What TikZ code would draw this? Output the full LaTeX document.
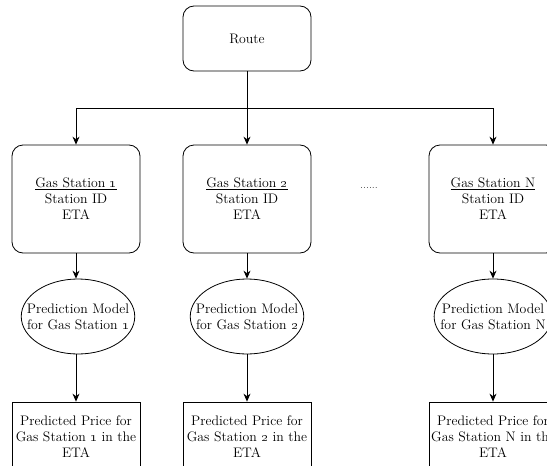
\documentclass[tikz,border=0pt]{standalone}
\usetikzlibrary{shapes.geometric,arrows.meta}
\begin{document}
\begin{tikzpicture}[x=1pt,y=-1pt,
        txt/.style={font=\fontsize{13.8}{16}\selectfont, align=center, inner sep=0pt, text=black},
        roundbox/.style={txt, draw, line width=0.8pt, rounded corners=11pt, minimum width=128pt},
        model/.style={txt, draw, line width=0.8pt, ellipse, inner xsep=-11pt, minimum height=75pt},
        pricebox/.style={txt, draw, line width=0.8pt, minimum width=128pt, minimum height=70pt},
        arr/.style={-{Stealth[length=8pt,width=7pt]}, line width=0.8pt}]
        \clip (0,0) rectangle (547,466);
        \fill[white] (0,0) rectangle (547,466);
        \coordinate (split) at (247,108);
        \node[roundbox, minimum height=65pt] (route) at (247,38.5) {Route};
        \node[roundbox, minimum height=108pt] (gs1) at (76,199) {\underline{Gas Station \oldstylenums{1}}\\Station ID\\ETA};
        \node[roundbox, minimum height=108pt] (gs2) at (247,199) {\underline{Gas Station \oldstylenums{2}}\\Station ID\\ETA};
        \node[roundbox, minimum height=108pt] (gsN) at (493,199) {\underline{Gas Station N}\\Station ID\\ETA};
        \node[txt, text=black!75, font=\fontsize{11}{12}\selectfont, anchor=base] (dots) at (369,188) {......};
        \node[model] (pm1) at (78,316.5) {Prediction Model\\for Gas Station \oldstylenums{1}};
        \node[model] (pm2) at (247,316.5) {Prediction Model\\for Gas Station \oldstylenums{2}};
        \node[model] (pmN) at (493,316.5) {Prediction Model\\for Gas Station N};
        \node[pricebox] (pp1) at (76,437) {Predicted Price for\\Gas Station \oldstylenums{1} in the\\ETA};
        \node[pricebox] (pp2) at (247,437) {Predicted Price for\\Gas Station \oldstylenums{2} in the\\ETA};
        \node[pricebox] (ppN) at (493,437) {Predicted Price for\\Gas Station N in the\\ETA};
        \draw[arr] (route.south) -- (gs2.north);
        \draw[arr] (split) -| (gs1.north);
        \draw[arr] (split) -| (gsN.north);
        \draw[arr] (gs1.south) -- (gs1.south |- pm1.north);
        \draw[arr] (gs2.south) -- (pm2.north);
        \draw[arr] (gsN.south) -- (pmN.north);
        \draw[arr] (gs1.south |- pm1.south) -- (pp1.north);
        \draw[arr] (pm2.south) -- (pp2.north);
        \draw[arr] (pmN.south) -- (ppN.north);
        %\node[draw] (more) at (369,320) {};
    \end{tikzpicture}
\end{document}
